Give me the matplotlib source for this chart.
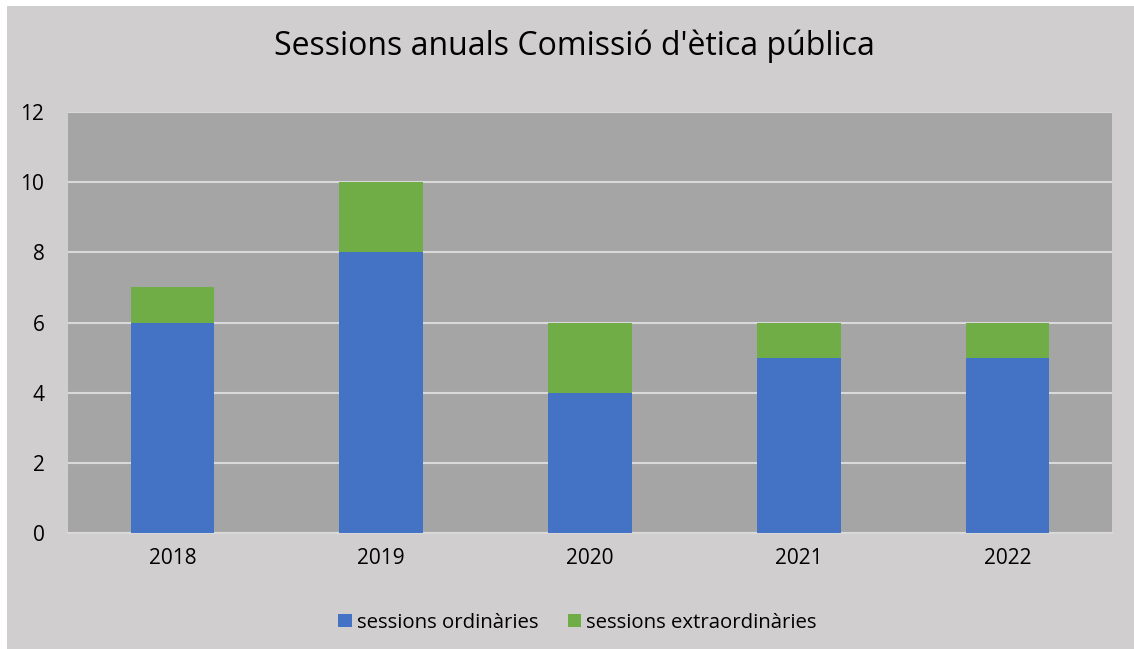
import matplotlib
matplotlib.use("Agg")
import matplotlib.pyplot as plt
from matplotlib.patches import Rectangle

years = ["2018", "2019", "2020", "2021", "2022"]
ordinaries = [6, 8, 4, 5, 5]
extraordinaries = [1, 2, 2, 1, 1]

C_ORD = "#4472c4"
C_EXT = "#70ad47"
BG = "#d0cecf"
PLOT_BG = "#a5a5a5"
GRID = "#d9d9d9"

plt.rcParams["font.family"] = ["Open Sans", "DejaVu Sans"]

fig = plt.figure(figsize=(11.34, 6.49), dpi=100, facecolor="white")
fig.patches.append(Rectangle((7 / 1134, 0), 1, 1 - 6 / 649, transform=fig.transFigure,
                             facecolor=BG, edgecolor="none", zorder=-10))

ax = fig.add_axes([68 / 1134, 1 - 533 / 649, (1112 - 68) / 1134, (533 - 112) / 649])
ax.set_facecolor(PLOT_BG)

x = range(len(years))
ax.bar(x, ordinaries, width=0.4, color=C_ORD, label="sessions ordinàries", zorder=3)
ax.bar(x, extraordinaries, width=0.4, bottom=ordinaries, color=C_EXT,
       label="sessions extraordinàries", zorder=3)

ax.set_xlim(-0.5, len(years) - 0.5)
ax.set_ylim(0, 12)
ax.set_yticks(range(0, 13, 2))
ax.set_xticks(list(x))
ax.set_xticklabels(years)
ax.yaxis.grid(True, color=GRID, lw=1.5, zorder=1)
ax.set_axisbelow(True)
for s in ["top", "right", "left"]:
    ax.spines[s].set_visible(False)
ax.spines["bottom"].set_color(GRID)
ax.spines["bottom"].set_linewidth(1.5)
ax.tick_params(length=0, labelsize=15, colors="#000000")
ax.tick_params(axis="y", pad=17)
ax.tick_params(axis="x", pad=11)

fig.text(574 / 1134, 1 - 46 / 649, "Sessions anuals Comissió d'ètica pública",
         ha="center", va="center", fontsize=23)

ax.legend(loc="center", bbox_to_anchor=(0.488, -0.213), ncol=2, frameon=False,
          fontsize=14.7, handlelength=0.65, handleheight=0.65, handletextpad=0.25,
          columnspacing=1.45)

fig.savefig("out.png", dpi=100, facecolor=fig.get_facecolor())
